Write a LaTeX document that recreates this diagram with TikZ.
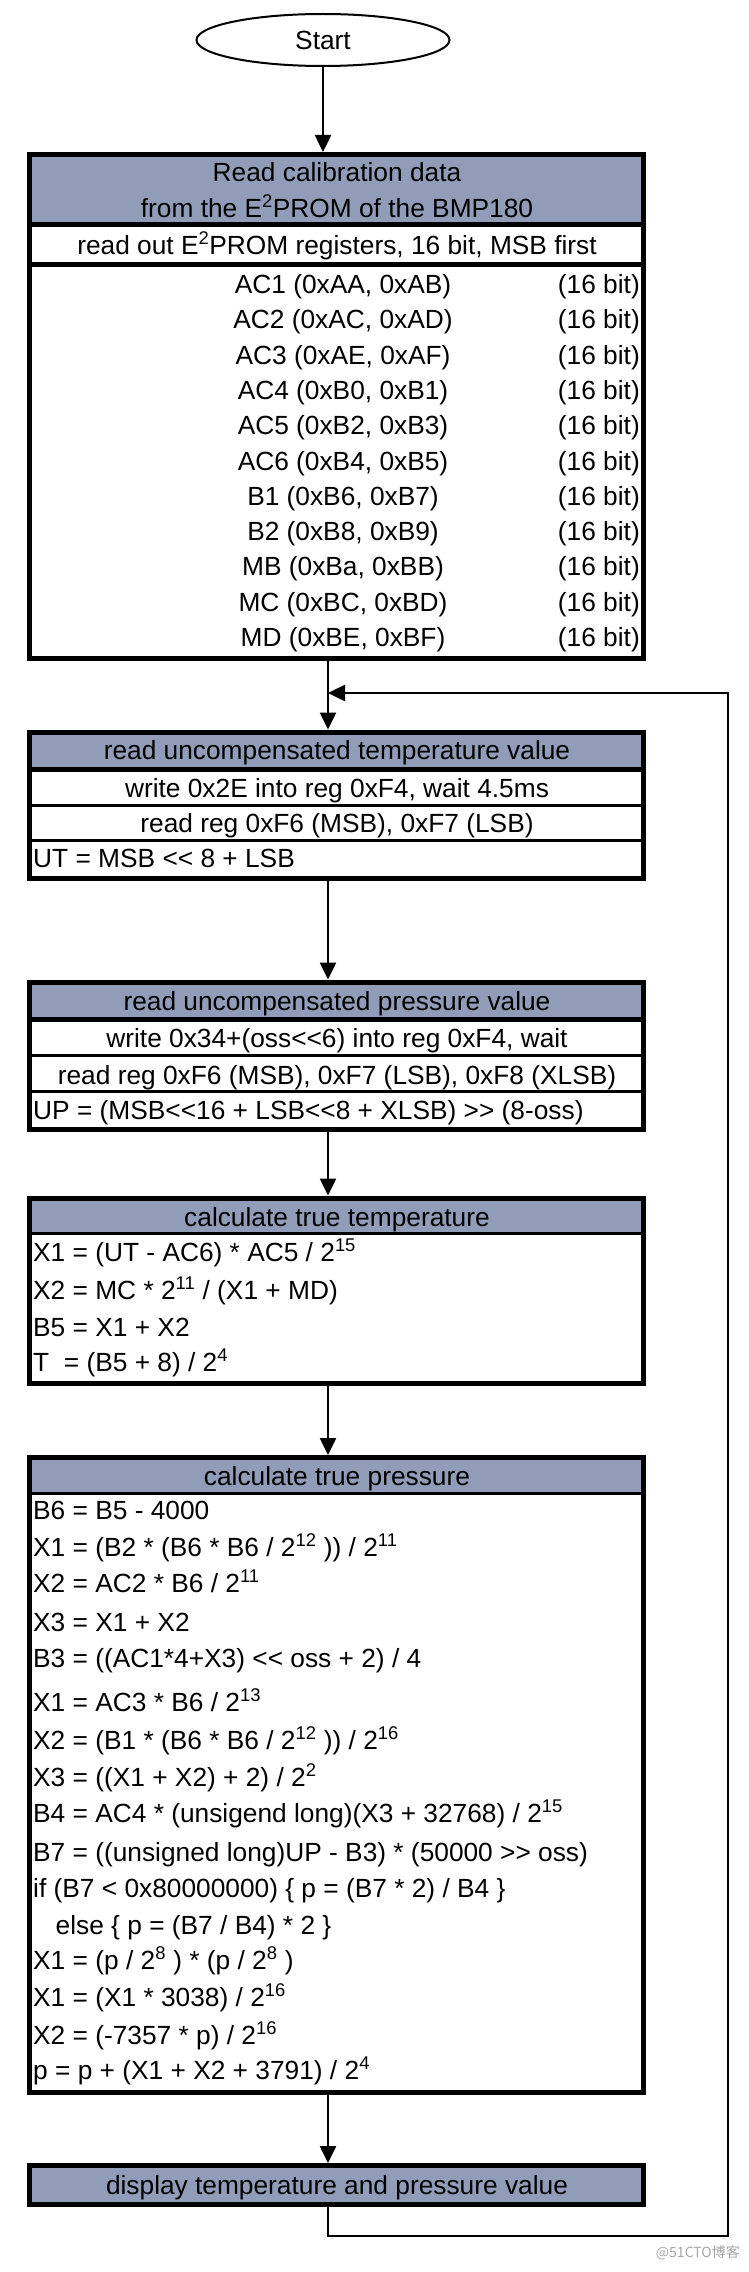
\documentclass[tikz,border=0pt]{standalone}
\usepackage{fontspec}
\setmainfont{Liberation Sans}
\newfontfamily\cjk{Noto Sans CJK SC}
\usetikzlibrary{arrows.meta,shapes.geometric}
\definecolor{hdr}{RGB}{145,157,184}
\tikzset{
  boxframe/.style={draw, line width=5pt, minimum width=614.5pt, inner sep=0pt},
  conn/.style={line width=2.5pt, -{Triangle[length=17pt,width=16pt]}},
  lbl/.style={anchor=base, inner sep=0pt},
  lblw/.style={anchor=base west, inner sep=0pt},
  lble/.style={anchor=base east, inner sep=0pt},
  septhick/.style={line width=5pt},
  septhin/.style={line width=3pt}
}
\begin{document}
\begin{tikzpicture}[x=1pt,y=-1pt,font=\fontsize{26.3}{31}\selectfont]
\fill[white] (0,0) rectangle (749,2272);
\useasboundingbox (0,0) rectangle (749,2272);

\coordinate (ax) at (328,0);
\coordinate (lb) at (728,2236);
\coordinate (lt) at (728,693);

% Start
\node[draw, ellipse, line width=2pt, minimum width=253pt, minimum height=52pt, inner sep=0pt] (start) at (323,40) {Start};

% ---------- Box 1 ----------
\fill[hdr] (29,154.5) rectangle (643.5,224.5);
\node[boxframe, minimum height=503.5pt] (b1) at (336.25,406.25) {};
\draw[septhick] (29,224.5) -- (643.5,224.5);
\draw[septhick] (29,264.5) -- (643.5,264.5);
\node[lbl] (b1t1) at (337,181) {Read calibration data};
\node[lbl] (b1t2) at (337,217) {from the E\textsuperscript{2}PROM of the BMP180};
\node[lbl] (b1r) at (337,254) {read out E\textsuperscript{2}PROM registers, 16 bit, MSB first};
\node[lbl] (ac1) at (343,293.5) {AC1 (0xAA, 0xAB)};
\node[lbl] (ac2) at (343,328.8) {AC2 (0xAC, 0xAD)};
\node[lbl] (ac3) at (343,364.1) {AC3 (0xAE, 0xAF)};
\node[lbl] (ac4) at (343,399.4) {AC4 (0xB0, 0xB1)};
\node[lbl] (ac5) at (343,434.7) {AC5 (0xB2, 0xB3)};
\node[lbl] (ac6) at (343,470.0) {AC6 (0xB4, 0xB5)};
\node[lbl] (cb1) at (343,505.3) {B1 (0xB6, 0xB7)};
\node[lbl] (cb2) at (343,540.6) {B2 (0xB8, 0xB9)};
\node[lbl] (cmb) at (343,575.9) {MB (0xBa, 0xBB)};
\node[lbl] (cmc) at (343,611.2) {MC (0xBC, 0xBD)};
\node[lbl] (cmd) at (343,646.5) {MD (0xBE, 0xBF)};
\foreach \k in {0,...,10}{
  \node[lble] (bit\k) at (640,293.5+\k*35.3) {(16 bit)};
}

% ---------- Box 2 ----------
\fill[hdr] (29,732) rectangle (643.5,769);
\node[boxframe, minimum height=146pt] (b2) at (336.25,805) {};
\draw[septhick] (29,769) -- (643.5,769);
\draw[septhin] (29,805) -- (643.5,805);
\draw[septhin] (29,840) -- (643.5,840);
\node[lbl] (b2t) at (337,759) {read uncompensated temperature value};
\node[lbl] (b2r1) at (337,797) {write 0x2E into reg 0xF4, wait 4.5ms};
\node[lbl] (b2r2) at (337,832) {read reg 0xF6 (MSB), 0xF7 (LSB)};
\node[lblw] (b2r3) at (33,867) {UT = MSB <{}< 8 + LSB};

% ---------- Box 3 ----------
\fill[hdr] (29,982) rectangle (643.5,1019.5);
\node[boxframe, minimum height=147.5pt] (b3) at (336.25,1055.75) {};
\draw[septhick] (29,1019.5) -- (643.5,1019.5);
\draw[septhin] (29,1055) -- (643.5,1055);
\draw[septhin] (29,1091) -- (643.5,1091);
\node[lbl] (b3t) at (337,1010) {read uncompensated pressure value};
\node[lbl] (b3r1) at (337,1047) {write 0x34+(oss<{}<6) into reg 0xF4, wait};
\node[lbl] (b3r2) at (337,1084) {read reg 0xF6 (MSB), 0xF7 (LSB), 0xF8 (XLSB)};
\node[lblw] (b3r3) at (33,1119) {UP = (MSB<{}<16 + LSB<{}<8 + XLSB) >{}> (8-oss)};

% ---------- Box 4 ----------
\fill[hdr] (29,1198) rectangle (643.5,1233.5);
\node[boxframe, minimum height=185pt] (b4) at (336.25,1290.5) {};
\draw[septhin] (29,1233.5) -- (643.5,1233.5);
\node[lbl] (b4t) at (337,1226) {calculate true temperature};
\node[lblw] (b4l1) at (33,1261) {X1 = (UT - AC6) * AC5 / 2\textsuperscript{15}};
\node[lblw] (b4l2) at (33,1299) {X2 = MC * 2\textsuperscript{11} / (X1 + MD)};
\node[lblw] (b4l3) at (33,1336) {B5 = X1 + X2};
\node[lblw] (b4l4) at (33,1371) {T\ \ = (B5 + 8) / 2\textsuperscript{4}};

% ---------- Box 5 ----------
\fill[hdr] (29,1457.5) rectangle (643.5,1493.5);
\node[boxframe, minimum height=635pt] (b5) at (336.25,1775) {};
\draw[septhin] (29,1493.5) -- (643.5,1493.5);
\node[lbl] (b5t) at (337,1485) {calculate true pressure};
\node[lblw] (p01) at (33,1519) {B6 = B5 - 4000};
\node[lblw] (p02) at (33,1556) {X1 = (B2 * (B6 * B6 / 2\textsuperscript{12} )) / 2\textsuperscript{11}};
\node[lblw] (p03) at (33,1592) {X2 = AC2 * B6 / 2\textsuperscript{11}};
\node[lblw] (p04) at (33,1631) {X3 = X1 + X2};
\node[lblw] (p05) at (33,1667) {B3 = ((AC1*4+X3) <{}< oss + 2) / 4};
\node[lblw] (p06) at (33,1711) {X1 = AC3 * B6 / 2\textsuperscript{13}};
\node[lblw] (p07) at (33,1749) {X2 = (B1 * (B6 * B6 / 2\textsuperscript{12} )) / 2\textsuperscript{16}};
\node[lblw] (p08) at (33,1786) {X3 = ((X1 + X2) + 2) / 2\textsuperscript{2}};
\node[lblw] (p09) at (33,1822) {B4 = AC4 * (unsigend long)(X3 + 32768) / 2\textsuperscript{15}};
\node[lblw] (p10) at (33,1861) {B7 = ((unsigned long)UP - B3) * (50000 >{}> oss)};
\node[lblw] (p11) at (33,1897) {if (B7 < 0x80000000) \{ p = (B7 * 2) / B4 \}};
\node[lblw] (p12) at (55.5,1934) {else \{ p = (B7 / B4) * 2 \}};
\node[lblw] (p13) at (33,1969) {X1 = (p / 2\textsuperscript{8} ) * (p / 2\textsuperscript{8} )};
\node[lblw] (p14) at (33,2006) {X1 = (X1 * 3038) / 2\textsuperscript{16}};
\node[lblw] (p15) at (33,2044) {X2 = (-7357 * p) / 2\textsuperscript{16}};
\node[lblw] (p16) at (33,2079) {p = p + (X1 + X2 + 3791) / 2\textsuperscript{4}};

% ---------- Box 6 ----------
\node[boxframe, fill=hdr, minimum height=39pt] (b6) at (336.25,2185) {};
\node[lbl] (b6t) at (337,2194) {display temperature and pressure value};

% ---------- Connectors ----------
\draw[conn] (start.south) -- (start.south |- b1.north);
\draw[conn] (b1.south -| ax) -- (b2.north -| ax);
\draw[conn] (b2.south -| ax) -- (b3.north -| ax);
\draw[conn] (b3.south -| ax) -- (b4.north -| ax);
\draw[conn] (b4.south -| ax) -- (b5.north -| ax);
\draw[conn] (b5.south -| ax) -- (b6.north -| ax);
\draw[conn] (b6.south -| ax) |- (lb) -- (lt) -- (lt -| ax);

% watermark
\node[anchor=east, inner sep=0pt, text=black!35, font=\cjk\fontsize{14}{16}\selectfont] (wm) at (740,2253) {@51CTO博客};
\end{tikzpicture}
\end{document}
